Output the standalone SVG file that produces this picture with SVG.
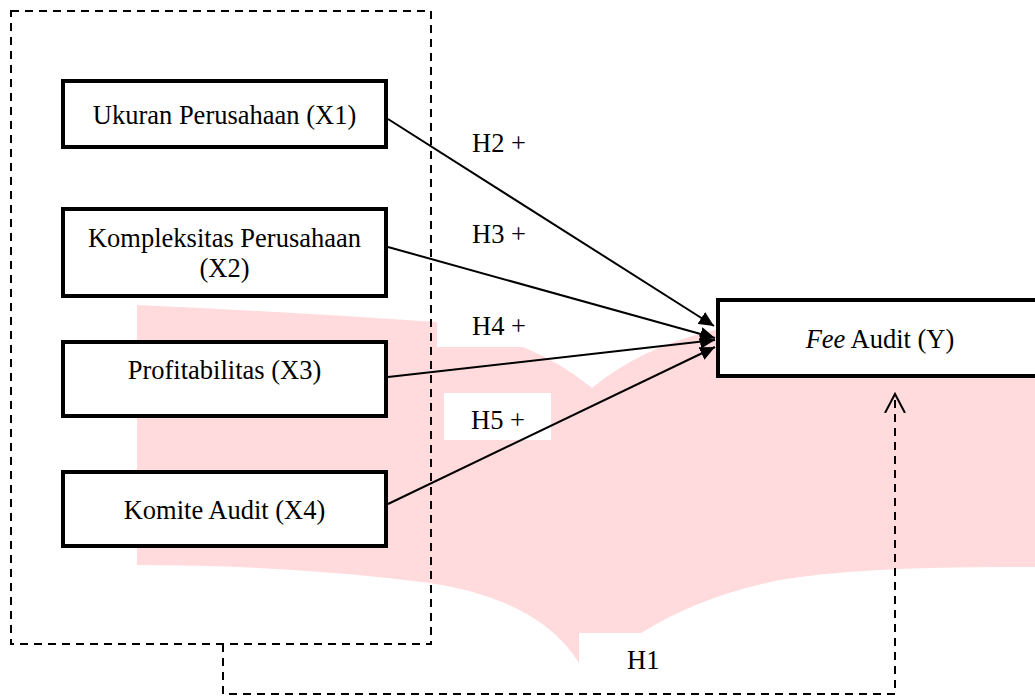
<svg xmlns="http://www.w3.org/2000/svg" width="1035" height="696" viewBox="0 0 1035 696">
<style>
.t{font-family:"Liberation Serif","Times New Roman",serif;font-size:26.5px;fill:#000}
.box{fill:#fff;stroke:#000;stroke-width:4}
.arr{stroke:#000;stroke-width:2;fill:none;marker-end:url(#ah)}
.dash{stroke:#000;stroke-width:2;fill:none;stroke-dasharray:8 6}
</style>
<defs>
<marker id="ah" markerUnits="userSpaceOnUse" markerWidth="16" markerHeight="14" refX="15" refY="7" orient="auto">
<path d="M0,0 L15,7 L0,14 z" fill="#000"/>
</marker>
<marker id="oa" markerUnits="userSpaceOnUse" markerWidth="22" markerHeight="26" refX="19" refY="12" orient="auto">
<path d="M0,2 L19,12 L0,22" fill="none" stroke="#000" stroke-width="2"/>
</marker>
</defs>
<rect width="1035" height="696" fill="#fff"/>
<g id="watermark">
<path d="M137,305 Q290,312 437,322 L437,347 L523,347 Q560,362 592,388 Q640,348 714,330 L1035,300 L1035,567 Q860,566 780,580 Q700,596 641,633 L579,633 L579,663 Q540,600 430,583 Q290,565 137,565 Z" fill="#FFDBDD"/>
<rect x="444" y="393" width="107" height="47" fill="#fff"/>
</g>
<g id="frame">
<rect x="11" y="11" width="420" height="633" class="dash"/>
</g>
<g id="connectors">
<line x1="388" y1="119" x2="714" y2="326" class="arr"/>
<line x1="388" y1="247" x2="715" y2="338" class="arr"/>
<line x1="388" y1="377" x2="715" y2="340" class="arr"/>
<line x1="388" y1="504" x2="715" y2="347" class="arr"/>
<path d="M223,644 V694 H895 V394" class="dash" marker-end="url(#oa)"/>
</g>
<g id="labels">
<text class="t" x="472" y="152">H2 +</text>
<text class="t" x="472" y="243">H3 +</text>
<text class="t" x="472" y="335">H4 +</text>
<text class="t" x="471" y="429">H5 +</text>
<text class="t" x="627" y="669">H1</text>
</g>
<g id="x1">
<rect class="box" x="63" y="81" width="323" height="66"/>
<text class="t" x="224.5" y="124" text-anchor="middle">Ukuran Perusahaan (X1)</text>
</g>
<g id="x2">
<rect class="box" x="63" y="209" width="323" height="87"/>
<text class="t" x="224.5" y="247" text-anchor="middle">Kompleksitas Perusahaan</text>
<text class="t" x="224.5" y="277" text-anchor="middle">(X2)</text>
</g>
<g id="x3">
<rect class="box" x="63" y="342" width="323" height="74"/>
<text class="t" x="224.5" y="379" text-anchor="middle">Profitabilitas (X3)</text>
</g>
<g id="x4">
<rect class="box" x="63" y="472" width="323" height="74"/>
<text class="t" x="224.5" y="519" text-anchor="middle">Komite Audit (X4)</text>
</g>
<g id="y">
<rect class="box" x="718" y="300" width="330" height="76"/>
<text class="t" x="880" y="348" text-anchor="middle"><tspan font-style="italic">Fee</tspan> Audit (Y)</text>
</g>
</svg>
